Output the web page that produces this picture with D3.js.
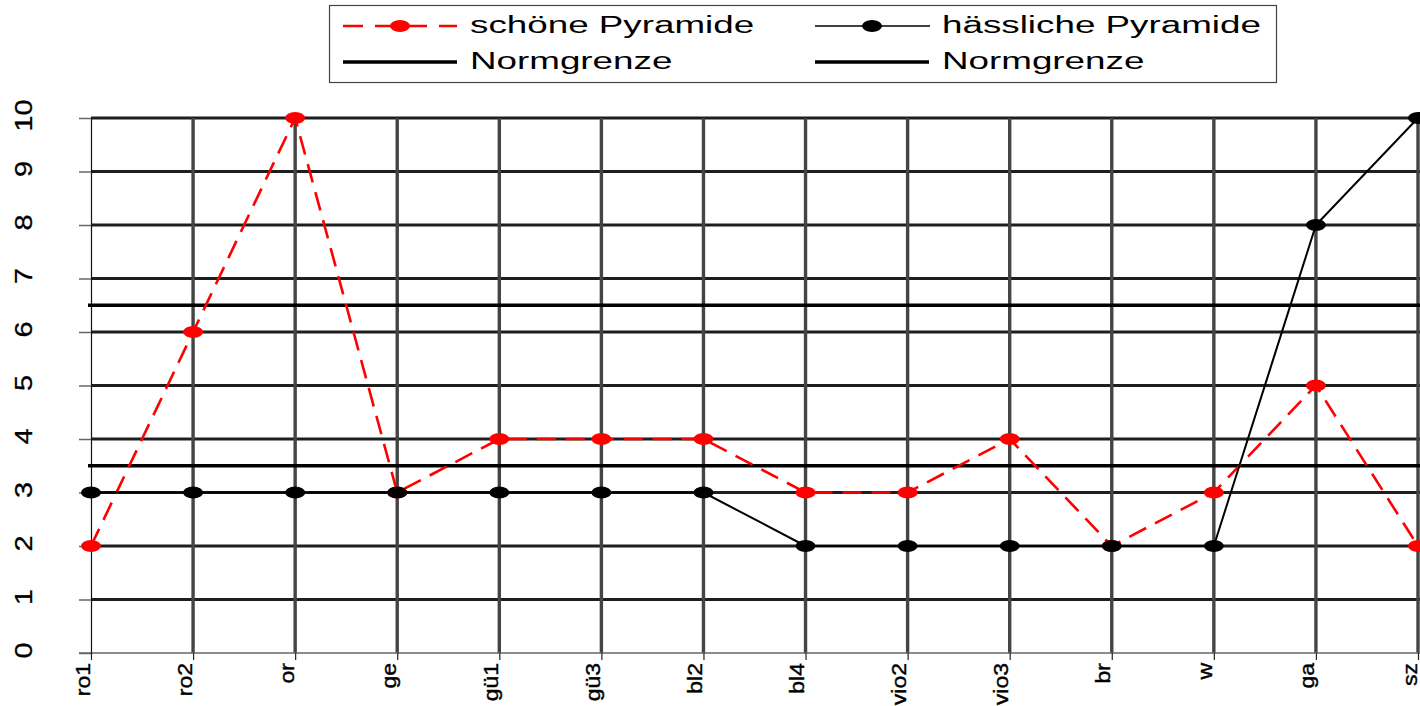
<!DOCTYPE html>
<html>
<head>
<meta charset="utf-8">
<script src="https://cdn.jsdelivr.net/npm/d3@7"></script>
<style>
  html, body { margin: 0; padding: 0; background: #fff; }
  svg { display: block; font-family: "Liberation Sans", Arial, sans-serif; }
</style>
</head>
<body>
<svg id="chart" width="1420" height="706"></svg>
<script>
// ---- data ----
const categories = ["ro1","ro2","or","ge","gü1","gü3","bl2","bl4","vio2","vio3","br","w","ga","sz"];
const schoenePyramide = [2,6,10,3,4,4,4,3,3,4,2,3,5,2];
const haesslichePyramide = [3,3,3,3,3,3,3,2,2,2,2,2,8,10];
const normgrenzen = [6.5, 3.5];
const yTicks = [0,1,2,3,4,5,6,7,8,9,10];
const legendLabels = ["schöne Pyramide","hässliche Pyramide","Normgrenze","Normgrenze"];

// ---- layout ----
const W = 1420, H = 706;
const svg = d3.select("#chart");
const x = d3.scalePoint().domain(categories).range([91, 1418]);
const y = d3.scaleLinear().domain([0, 10]).range([653, 118]);

// horizontal gridlines
svg.append("g").selectAll("line").data(yTicks.filter(d => d > 0)).join("line")
  .attr("x1", 91).attr("x2", W)
  .attr("y1", d => y(d)).attr("y2", d => y(d))
  .attr("stroke", "#1e1e1e").attr("stroke-width", 2.8);

// vertical gridlines
svg.append("g").selectAll("line").data(categories.slice(1)).join("line")
  .attr("x1", d => x(d)).attr("x2", d => x(d))
  .attr("y1", y(10)).attr("y2", y(0))
  .attr("stroke", "#444").attr("stroke-width", 3.4);

// bottom baseline
svg.append("line").attr("x1", 79).attr("x2", W).attr("y1", y(0)).attr("y2", y(0))
  .attr("stroke", "#666").attr("stroke-width", 1.5);

// y axis
const yAxis = svg.append("g").attr("transform", "translate(91,0)")
  .call(d3.axisLeft(y).tickValues(yTicks).tickSize(12).tickSizeOuter(0));
yAxis.select(".domain").attr("stroke", "#111").attr("stroke-width", 1.2);
yAxis.selectAll(".tick line").attr("stroke", "#666").attr("stroke-width", 1.5);
yAxis.selectAll(".tick text")
  .attr("x", null).attr("dy", null)
  .attr("font-size", 24).attr("fill", "#000")
  .attr("stroke", "#000").attr("stroke-width", 0.3)
  .attr("text-anchor", "middle")
  .attr("transform", "translate(-59,-3) rotate(-90) scale(1.2,1)");

// x axis
const xAxis = svg.append("g").attr("transform", `translate(0,${y(0)})`)
  .call(d3.axisBottom(x).tickSize(7).tickSizeOuter(0));
xAxis.select(".domain").remove();
xAxis.selectAll(".tick line").attr("stroke", "#222").attr("stroke-width", 1.2);
xAxis.selectAll(".tick text")
  .attr("y", null).attr("dy", null)
  .attr("font-size", 20).attr("fill", "#000")
  .attr("stroke", "#000").attr("stroke-width", 0.4)
  .attr("text-anchor", "end")
  .attr("transform", "translate(-2,10) rotate(-90) scale(1.15,1)");

// Normgrenzen
svg.append("g").selectAll("line").data(normgrenzen).join("line")
  .attr("x1", 88).attr("x2", W)
  .attr("y1", d => y(d)).attr("y2", d => y(d))
  .attr("stroke", "#000").attr("stroke-width", 3.5);

// series
const red = categories.map((c, i) => ({c, v: schoenePyramide[i]}));
const blk = categories.map((c, i) => ({c, v: haesslichePyramide[i]}));
const line = d3.line().x(d => x(d.c)).y(d => y(d.v));

svg.append("path").datum(red).attr("d", line)
  .attr("fill", "none").attr("stroke", "#ff0000").attr("stroke-width", 2.6)
  .attr("stroke-dasharray", "19,10");
svg.append("g").selectAll("ellipse").data(red).join("ellipse")
  .attr("cx", d => x(d.c)).attr("cy", d => y(d.v))
  .attr("rx", 10).attr("ry", 6).attr("fill", "#ff0000");

svg.append("path").datum(blk).attr("d", line)
  .attr("fill", "none").attr("stroke", "#000").attr("stroke-width", 2)
  .attr("stroke-linejoin", "round");
svg.append("g").selectAll("ellipse").data(blk).join("ellipse")
  .attr("cx", d => x(d.c)).attr("cy", d => y(d.v))
  .attr("rx", 10).attr("ry", 6).attr("fill", "#000");

// legend
const lg = svg.append("g");
lg.append("rect").attr("x", 329.5).attr("y", 5.5).attr("width", 947).attr("height", 77)
  .attr("fill", "#fff").attr("stroke", "#444").attr("stroke-width", 1.2);

const legendItems = [
  {label: legendLabels[0], col: 0, row: 0, type: "red"},
  {label: legendLabels[1], col: 1, row: 0, type: "black"},
  {label: legendLabels[2], col: 0, row: 1, type: "norm"},
  {label: legendLabels[3], col: 1, row: 1, type: "norm"}
];
const colX = [343, 815], rowY = [26, 62];
legendItems.forEach(it => {
  const x0 = colX[it.col], yy = rowY[it.row];
  if (it.type === "red") {
    lg.append("line").attr("x1", x0).attr("x2", x0 + 114).attr("y1", yy).attr("y2", yy)
      .attr("stroke", "#ff0000").attr("stroke-width", 2.5).attr("stroke-dasharray", "20,12");
    lg.append("ellipse").attr("cx", x0 + 57).attr("cy", yy).attr("rx", 10).attr("ry", 6).attr("fill", "#ff0000");
  } else if (it.type === "black") {
    lg.append("line").attr("x1", x0).attr("x2", x0 + 115).attr("y1", yy).attr("y2", yy)
      .attr("stroke", "#000").attr("stroke-width", 1.5);
    lg.append("ellipse").attr("cx", x0 + 57).attr("cy", yy).attr("rx", 10).attr("ry", 6).attr("fill", "#000");
  } else {
    lg.append("line").attr("x1", x0).attr("x2", x0 + 114).attr("y1", yy).attr("y2", yy)
      .attr("stroke", "#000").attr("stroke-width", 3.5);
  }
  lg.append("text")
    .attr("transform", `translate(${x0 + 127},${yy + 7}) scale(1.6,1)`)
    .attr("font-size", 23).attr("fill", "#000")
    .text(it.label);
});
</script>
</body>
</html>
